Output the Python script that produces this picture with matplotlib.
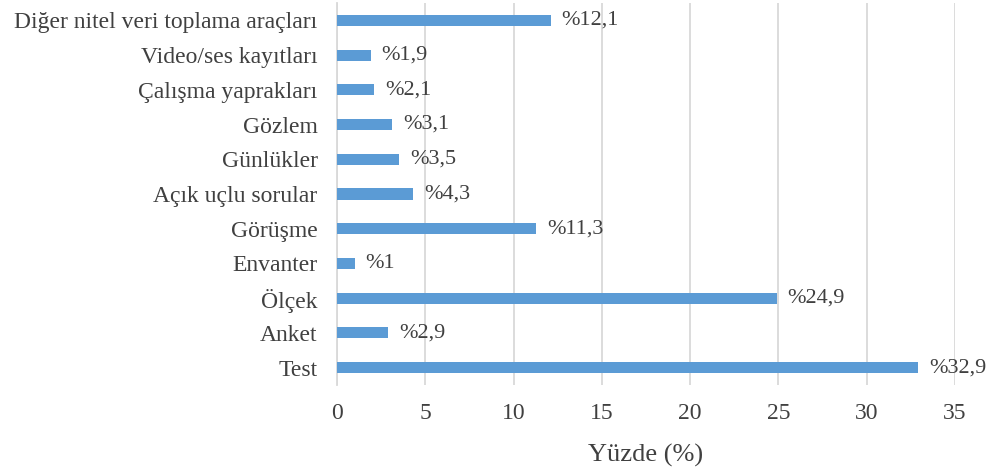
import matplotlib
matplotlib.use('Agg')
import matplotlib.pyplot as plt

categories = ['Test', 'Anket', 'Ölçek', 'Envanter', 'Görüşme', 'Açık uçlu sorular',
              'Günlükler', 'Gözlem', 'Çalışma yaprakları', 'Video/ses kayıtları',
              'Diğer nitel veri toplama araçları']
values = [32.9, 2.9, 24.9, 1, 11.3, 4.3, 3.5, 3.1, 2.1, 1.9, 12.1]
labels = ['%32,9', '%2,9', '%24,9', '%1', '%11,3', '%4,3', '%3,5', '%3,1', '%2,1', '%1,9', '%12,1']
xticks = [0, 5, 10, 15, 20, 25, 30, 35]

plt.rcParams['font.family'] = ['Liberation Serif', 'DejaVu Serif']
text_color = '#404040'

fig = plt.figure(figsize=(9.89, 4.68), dpi=100)
ax = fig.add_axes([0.3407, 0.1774, 0.6249, 0.8162])

y = list(range(len(categories)))
ax.barh(y, values, height=0.32, color='#5B9BD5', zorder=3)
for i in range(len(values)):
    ax.annotate(labels[i], (values[i], y[i]), xytext=(8, 0), textcoords='offset points',
                va='center', ha='left', fontsize=16, color=text_color)

ax.set_xlim(0, 35)
ax.set_ylim(-0.5, len(categories) - 0.5)
ax.set_xticks(xticks)
ax.set_yticks(y)
ax.set_yticklabels(categories)
ax.tick_params(axis='x', length=0, pad=13, labelsize=17, labelcolor=text_color)
ax.tick_params(axis='y', length=0, pad=14, labelsize=17, labelcolor=text_color)
ax.grid(axis='x', color='#d9d9d9', linewidth=1.3, zorder=0)
for s in ['top', 'right', 'bottom']:
    ax.spines[s].set_visible(False)
ax.spines['left'].set_color('#d9d9d9')
ax.spines['left'].set_linewidth(1.3)
ax.set_xlabel('Yüzde (%)', fontsize=19, color=text_color, labelpad=14)

fig.savefig('out.png', dpi=100)
